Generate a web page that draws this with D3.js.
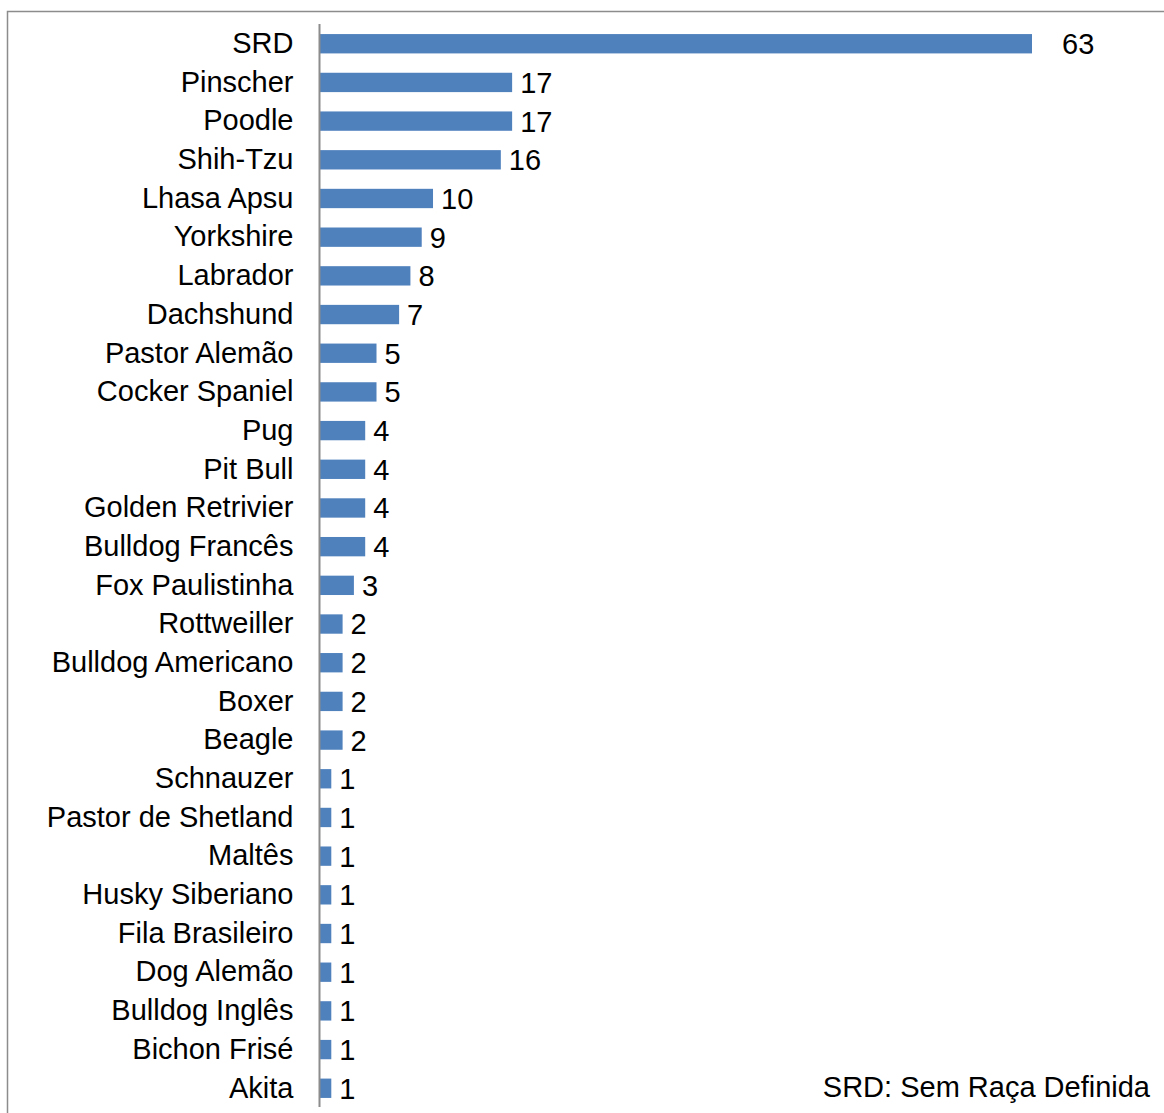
<!DOCTYPE html>
<html><head><meta charset="utf-8">
<script src="https://cdn.jsdelivr.net/npm/d3@7"></script>
<style>body{margin:0;background:#fff}svg{display:block}</style>
</head><body>
<script>
const categories = ["SRD","Pinscher","Poodle","Shih-Tzu","Lhasa Apsu","Yorkshire","Labrador","Dachshund","Pastor Alemão","Cocker Spaniel","Pug","Pit Bull","Golden Retrivier","Bulldog Francês","Fox Paulistinha","Rottweiller","Bulldog Americano","Boxer","Beagle","Schnauzer","Pastor de Shetland","Maltês","Husky Siberiano","Fila Brasileiro","Dog Alemão","Bulldog Inglês","Bichon Frisé","Akita"];
const values = [63,17,17,16,10,9,8,7,5,5,4,4,4,4,3,2,2,2,2,1,1,1,1,1,1,1,1,1];
const footnote = "SRD: Sem Raça Definida";

const W = 1164, H = 1113;
const svg = d3.select("body").append("svg").attr("width", W).attr("height", H);
const font = "Arial, 'Liberation Sans', sans-serif";
const fs = 29;

// frame (clipped by page edges on right and bottom)
svg.append("rect").attr("x", 7.5).attr("y", 11.5).attr("width", 1170).attr("height", 1120)
  .attr("fill", "none").attr("stroke", "#8c8c8c").attr("stroke-width", 1.5);

const x0 = 320;
const x = d3.scaleLinear().domain([0, 63]).range([x0, 1032]);
const y = d3.scaleBand().domain(categories).range([24.4, 1107.6]).paddingInner(0.5).paddingOuter(0.25);

svg.append("g").selectAll("rect").data(values).join("rect")
  .attr("x", x(0)).attr("y", (d, i) => y(categories[i]))
  .attr("width", d => x(d) - x(0)).attr("height", y.bandwidth())
  .attr("fill", "#4f81bd");

// axis
const ax = svg.append("g").attr("transform", `translate(${x0 - 0.5},0)`)
  .call(d3.axisLeft(y).tickSize(0).tickPadding(26));
ax.select(".domain").attr("stroke", "#8c8c8c").attr("stroke-width", 2).attr("d", "M0,24V1107");
ax.selectAll("text").attr("font-family", font).attr("font-size", fs).attr("fill", "#000");

const maxV = d3.max(values);
svg.append("g").selectAll("text").data(values).join("text")
  .attr("x", d => x(d) + (d === maxV ? 30 : 8))
  .attr("y", (d, i) => y(categories[i]) + y.bandwidth() / 2)
  .attr("dy", "0.36em")
  .attr("font-family", font).attr("font-size", fs).attr("fill", "#000")
  .text(d => d);

svg.append("text").attr("x", 1150).attr("y", 1097).attr("text-anchor", "end")
  .attr("font-family", font).attr("font-size", fs).attr("fill", "#000").text(footnote);
</script>
</body></html>
